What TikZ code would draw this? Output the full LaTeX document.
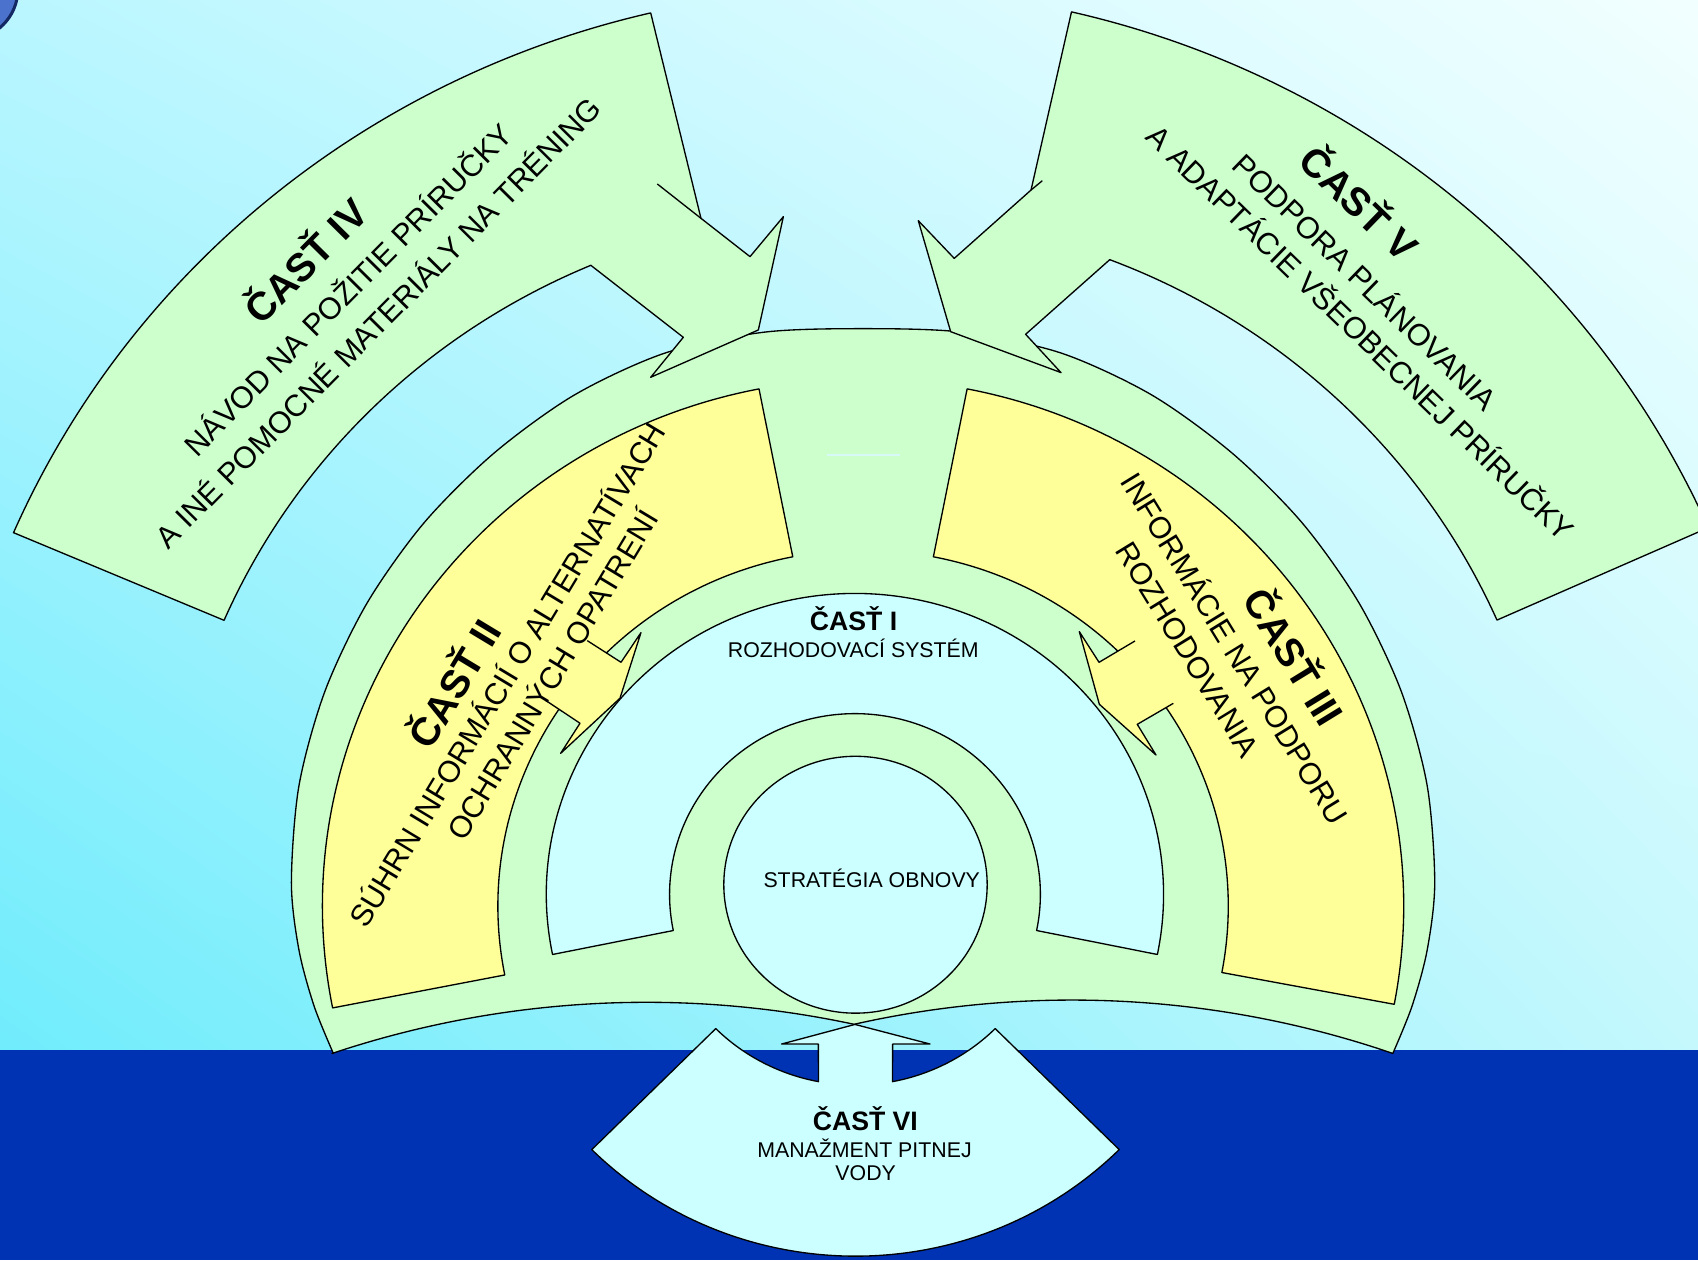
\documentclass[tikz,border=0pt]{standalone}
\usepackage{fontspec}
\setmainfont{Liberation Sans}
\usetikzlibrary{shadings}
\definecolor{grn}{RGB}{204,255,204}
\definecolor{yel}{RGB}{255,255,153}
\definecolor{lcy}{RGB}{204,255,255}
\definecolor{dblue}{RGB}{0,51,179}
\definecolor{bgul}{RGB}{186,246,255}
\definecolor{bgur}{RGB}{242,255,255}
\definecolor{bgll}{RGB}{112,236,252}
\definecolor{bglr}{RGB}{196,248,253}
\definecolor{ballfill}{RGB}{75,115,205}
\definecolor{ballrim}{RGB}{20,40,100}
\definecolor{faint}{RGB}{215,250,248}
\begin{document}
\begin{tikzpicture}[x=0.01cm,y=-0.01cm,line join=round,
  outl/.style={draw=black,line width=0.35pt},
  capt/.style={inner sep=0pt,font=\fontsize{10.4}{12}\selectfont\bfseries},
  subt/.style={inner sep=0pt,font=\fontsize{8}{9.6}\selectfont},
  scap/.style={inner sep=0pt,font=\fontsize{7}{8.4}\selectfont\bfseries},
  stxt/.style={inner sep=0pt,font=\fontsize{5.6}{6.7}\selectfont}]
\useasboundingbox (0,0) rectangle (1568,1164);
\clip (0,0) rectangle (1568,1164);

% background
\shade[upper left=bgul, upper right=bgur, lower left=bgll, lower right=bglr] (0,0) rectangle (1568,970);
\fill[dblue] (0,970) rectangle (1568,1164);

% corner sphere
\fill[ballfill] (-30,-10) circle[radius=46.5];
\draw[ballrim, line width=0.8pt] (-30,-10) circle[radius=46.5];

% big green fan
\path[fill=grn, outl] plot[smooth] coordinates {(307.8,972.7) (290.1,929.2) (276.1,877.4) (269.1,815) (276.1,725.4) (300,638.5) (338.9,557) (391.4,483) (456,418.6) (530.5,364.7) (614.5,325.9) (705.2,306.8) (797,303.5) (888.8,306.8) (979.5,325.9) (1063.5,364.7) (1138,418.6) (1202.6,483) (1255.1,557) (1294,638.5) (1317.9,725.4) (1324.9,815) (1317.9,877.4) (1303.9,929.2) (1286.2,972.8)}
  arc[start angle=-71.1, end angle=-102.7, radius=915]
  arc[start angle=-77.9, end angle=-108.5, radius=915] -- cycle;

% yellow band II
\path[fill=yel, outl] ([shift={(168.9:499.2 and 487)}]797,837) arc[start angle=168.9, end angle=258.9, x radius=499.2, y radius=487]
  -- ([shift={(258.9:337.2 and 329)}]797,837) arc[start angle=258.9, end angle=168.9, x radius=337.2, y radius=329] -- cycle;
% yellow band III
\path[fill=yel, outl] ([shift={(10.7:499.2 and 487)}]797,837) arc[start angle=10.7, end angle=-78.9, x radius=499.2, y radius=487]
  -- ([shift={(-78.9:337.2 and 329)}]797,837) arc[start angle=-78.9, end angle=10.7, x radius=337.2, y radius=329] -- cycle;

% ring I
\path[fill=lcy, outl] ([shift={(168.5:285 and 278)}]789.5,826) arc[start angle=168.5, end angle=371.5, x radius=285, y radius=278]
  -- ([shift={(371.5:171.2 and 167)}]789.5,826) arc[start angle=371.5, end angle=168.5, x radius=171.2, y radius=167] -- cycle;

% central circle
\path[fill=lcy, outl] (790,817) ellipse[x radius=121.6, y radius=118.6];

% small arrow II
\fill[yel] (542.3,591.6) -- (573.5,611.6) -- (591.9,584.2) -- (572.5,644.8) -- (517.7,695.7) -- (535.6,667.9) -- (504.2,647) -- cycle;
\draw[outl] (542.3,591.6) -- (573.5,611.6) -- (591.9,584.2) -- (572.5,644.8) -- (517.7,695.7) -- (535.6,667.9) -- (504.2,647);
% small arrow III
\fill[yel] (1048.1,591.9) -- (1014.9,611.6) -- (996.7,583.3) -- (1015.2,650.4) -- (1067.5,697.2) -- (1050.2,668.9) -- (1083.5,649.5) -- cycle;
\draw[outl] (1048.1,591.9) -- (1014.9,611.6) -- (996.7,583.3) -- (1015.2,650.4) -- (1067.5,697.2) -- (1050.2,668.9) -- (1083.5,649.5);

% curved arrow IV
\path[fill=grn, outl] (12.5,491.9) arc[start angle=-156.6, end angle=-103.2, x radius=853.5, y radius=832.7]
  -- (647.3,201.6) -- (692.6,237) -- (723.4,200.1) -- (700.3,304.7) -- (600.9,348.4) -- (631,311.5) -- (545.6,245)
  arc[start angle=-112.95, end angle=-156.6, x radius=641.7, y radius=626] -- cycle;
\draw[outl] (647.3,201.6) -- (607,169.9);

% curved arrow V
\path[fill=grn, outl] (1577.5,487.3) arc[start angle=-23.7, end angle=-76.9, x radius=853.5, y radius=832.7]
  -- (952.1,175.5) -- (881.2,238.6) -- (848,203.8) -- (877.9,306.3) -- (979.8,344.1) -- (947.1,308.7) -- (1024.8,239.8)
  arc[start angle=-69, end angle=-23.7, x radius=641.7, y radius=626] -- cycle;
\draw[outl] (952.1,175.5) -- (962.5,166.9);

% part VI with up arrow
\path[fill=lcy, outl] ([shift={(45:182.45 and 178)}]790,824) -- ([shift={(45:344.4 and 336)}]790,824)
  arc[start angle=45, end angle=135, x radius=344.4, y radius=336]
  -- ([shift={(135:182.45 and 178)}]790,824) arc[start angle=135, end angle=100.8, x radius=182.45, y radius=178]
  -- (755.7,964.1) -- (721.8,964.1) -- (789.5,946) -- (858.8,964.1) -- (824.3,964.1)
  -- ([shift={(79.2:182.45 and 178)}]790,824) arc[start angle=79.2, end angle=45, x radius=182.45, y radius=178] -- cycle;

% faint line
\draw[faint, line width=0.5pt] (764,420.5) -- (831,420.5);

% texts IV
\node[capt, rotate=45.3] (t4a) at (280.3,239.3) {ČASŤ IV};
\node[subt, rotate=45.3] (t4b) at (320.4,266.1) {NÁVOD NA POŽITIE PRÍRUČKY};
\node[subt, rotate=45.3] (t4c) at (347.9,296.7) {A INÉ POMOCNÉ MATERIÁLY NA TRÉNING};
% texts V
\node[capt, rotate=-44.1] (t5a) at (1256.9,185.7) {ČASŤ V};
\node[subt, rotate=-44.1] (t5b) at (1261.9,259.1) {PODPORA PLÁNOVANIA};
\node[subt, rotate=-44.1] (t5c) at (1257.9,306.2) {A ADAPTÁCIE VŠEOBECNEJ PRÍRUČKY};
% texts II
\node[capt, rotate=58.9] (t2a) at (417.3,630.1) {ČASŤ II};
\node[subt, rotate=58.9] (t2b) at (467,622.2) {SÚHRN INFORMÁCIÍ O ALTERNATÍVACH};
\node[subt, rotate=58.9] (t2c) at (508.5,622.2) {OCHRANNÝCH OPATRENÍ};
% texts III
\node[capt, rotate=-58.5] (t3a) at (1197.3,605.2) {ČASŤ III};
\node[subt, rotate=-58.5] (t3b) at (1141.8,598) {INFORMÁCIE NA PODPORU};
\node[subt, rotate=-58.5] (t3c) at (1096.6,600) {ROZHODOVANIA};
% texts I
\node[scap] (t1a) at (788.3,571.2) {ČASŤ I};
\node[stxt] (t1b) at (788,599) {ROZHODOVACÍ SYSTÉM};
\node[stxt] (t0) at (805,811.5) {STRATÉGIA OBNOVY};
% texts VI
\node[scap] (t6a) at (799.1,1033.3) {ČASŤ VI};
\node[stxt] (t6b) at (798.3,1060.4) {MANAŽMENT PITNEJ};
\node[stxt] (t6c) at (799.4,1082.9) {VODY};
\end{tikzpicture}
\end{document}
